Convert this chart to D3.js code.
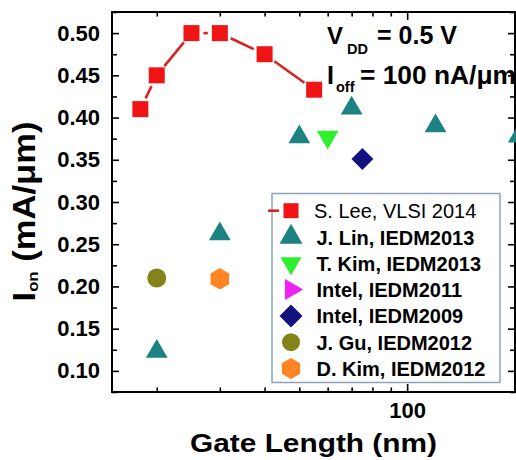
<!DOCTYPE html>
<html><head><meta charset="utf-8">
<script src="https://cdn.jsdelivr.net/npm/d3@7"></script>
<style>
body{margin:0;background:#fff}
svg{display:block}
text{font-family:"Liberation Sans",Arial,Helvetica,sans-serif}
</style>
</head><body>
<svg id="c" width="516" height="460"></svg>
<script>
// ---- data ----
const seriesNames = ["S. Lee, VLSI 2014","J. Lin, IEDM2013","T. Kim, IEDM2013","Intel, IEDM2011","Intel, IEDM2009","J. Gu, IEDM2012","D. Kim, IEDM2012"];
const leeX = [18, 20, 25, 30, 40, 55];
const leeY = [0.410, 0.450, 0.500, 0.500, 0.475, 0.433];
const linX = [20, 30, 50, 70, 120, 205];
const linY = [0.123, 0.262, 0.377, 0.411, 0.390, 0.378];
const tkimX = [60];
const tkimY = [0.377];
const intel11X = [];
const intel11Y = [];
const intel09X = [75];
const intel09Y = [0.351];
const guX = [20];
const guY = [0.210];
const dkimX = [30];
const dkimY = [0.209];
const yMajorTicks = [0.10, 0.15, 0.20, 0.25, 0.30, 0.35, 0.40, 0.45, 0.50];
const yMinorTicks = [0.075, 0.125, 0.175, 0.225, 0.275, 0.325, 0.375, 0.425, 0.475, 0.525];
const xMinorTicks = [20, 30, 40, 50, 60, 70, 80, 90];
const xMajorTicks = [100, 200];
const xTickLabels = {100: "100"};

// ---- layout ----
const L = 112, R = 515, T = 12, B = 392;
const svg = d3.select("#c");
const x = d3.scaleLog().domain([15, 200]).range([L, R]);
const y = d3.scaleLinear().domain([0.075, 0.525]).range([B, T]);

const hexagon = {
  draw(ctx, size) {
    const r = Math.sqrt(2 * size / (3 * Math.sqrt(3)));
    for (let i = 0; i < 6; i++) {
      const a = (-90 + 60 * i) * Math.PI / 180;
      if (i === 0) ctx.moveTo(r * Math.cos(a), r * Math.sin(a));
      else ctx.lineTo(r * Math.cos(a), r * Math.sin(a));
    }
    ctx.closePath();
  }
};

const styles = [
  {xs: leeX, ys: leeY, type: d3.symbolSquare, rot: 0, size: 256, lsize: 225, color: "#f01414"},
  {xs: linX, ys: linY, type: d3.symbolTriangle, rot: 0, size: 205, lsize: 229, color: "#1c8282"},
  {xs: tkimX, ys: tkimY, type: d3.symbolTriangle, rot: 180, size: 205, lsize: 191, color: "#2ef02e"},
  {xs: intel11X, ys: intel11Y, type: d3.symbolTriangle, rot: 90, size: 205, lsize: 191, color: "#f020f0"},
  {xs: intel09X, ys: intel09Y, type: d3.symbolSquare, rot: 45, size: 240, lsize: 265, color: "#111180"},
  {xs: guX, ys: guY, type: d3.symbolCircle, rot: 0, size: 284, lsize: 254, color: "#83831a"},
  {xs: dkimX, ys: dkimY, type: hexagon, rot: 0, size: 300, lsize: 286, color: "#ff8422"}
];

// ---- axes ----
function styleAxis(g) {
  g.select(".domain").remove();
  g.selectAll(".tick line").attr("stroke", "#000").attr("stroke-width", 1.6);
  g.selectAll("text").attr("font-size", 22).attr("font-weight", "bold").attr("fill", "#000")
    .attr("font-family", "'Liberation Sans',Arial,sans-serif");
}
const fmt = d3.format(".2f");
svg.append("g").attr("transform", `translate(${L},0)`)
  .call(d3.axisLeft(y).tickValues(yMajorTicks).tickSize(-7).tickSizeOuter(0).tickPadding(12).tickFormat(fmt)).call(styleAxis);
svg.append("g").attr("transform", `translate(${L},0)`)
  .call(d3.axisLeft(y).tickValues(yMinorTicks).tickSize(-5).tickSizeOuter(0).tickFormat("")).call(styleAxis);
svg.append("g").attr("transform", `translate(${R},0)`)
  .call(d3.axisRight(y).tickValues(yMajorTicks).tickSize(-7).tickSizeOuter(0).tickFormat("")).call(styleAxis);
svg.append("g").attr("transform", `translate(${R},0)`)
  .call(d3.axisRight(y).tickValues(yMinorTicks).tickSize(-5).tickSizeOuter(0).tickFormat("")).call(styleAxis);
svg.append("g").attr("transform", `translate(0,${B})`)
  .call(d3.axisBottom(x).tickValues(xMajorTicks).tickSize(-8).tickSizeOuter(0).tickPadding(10).tickFormat(d => xTickLabels[d] || "")).call(styleAxis);
svg.append("g").attr("transform", `translate(0,${B})`)
  .call(d3.axisBottom(x).tickValues(xMinorTicks).tickSize(-4.5).tickSizeOuter(0).tickFormat("")).call(styleAxis);
svg.append("g").attr("transform", `translate(0,${T})`)
  .call(d3.axisTop(x).tickValues(xMajorTicks).tickSize(-8).tickSizeOuter(0).tickFormat("")).call(styleAxis);
svg.append("g").attr("transform", `translate(0,${T})`)
  .call(d3.axisTop(x).tickValues(xMinorTicks).tickSize(-4.5).tickSizeOuter(0).tickFormat("")).call(styleAxis);

svg.append("rect").attr("x", L).attr("y", T).attr("width", R - L).attr("height", B - T)
  .attr("fill", "none").attr("stroke", "#000").attr("stroke-width", 2);

// ---- S. Lee line with gaps around symbols ----
const leePts = d3.zip(leeX, leeY).map(d => [x(d[0]), y(d[1])]);
const gap = 12;
svg.append("g").selectAll("line").data(d3.pairs(leePts)).join("line")
  .each(function([a, b]) {
    const dx = b[0] - a[0], dy = b[1] - a[1], len = Math.hypot(dx, dy);
    const ux = dx / len, uy = dy / len;
    d3.select(this).attr("x1", a[0] + ux * gap).attr("y1", a[1] + uy * gap)
      .attr("x2", b[0] - ux * gap).attr("y2", b[1] - uy * gap);
  })
  .attr("stroke", "#d42424").attr("stroke-width", 2.6);

// ---- markers ----
styles.forEach(s => {
  const sym = d3.symbol().type(s.type).size(s.size);
  svg.append("g").selectAll("path").data(d3.zip(s.xs, s.ys)).join("path")
    .attr("d", sym)
    .attr("transform", d => `translate(${x(d[0])},${y(d[1])}) rotate(${s.rot})`)
    .attr("fill", s.color);
});

// ---- annotation ----
const ann = svg.append("g").attr("font-weight", "bold").attr("fill", "#000");
ann.append("text").attr("x", 327).attr("y", 43.5).attr("font-size", 24).text("V");
ann.append("text").attr("x", 347).attr("y", 53.5).attr("font-size", 14.5).text("DD");
ann.append("text").attr("x", 377).attr("y", 43.5).attr("font-size", 25).attr("textLength", 80).attr("lengthAdjust", "spacingAndGlyphs").text("= 0.5 V");
ann.append("text").attr("x", 327).attr("y", 83.5).attr("font-size", 25).text("I");
ann.append("text").attr("x", 336).attr("y", 92).attr("font-size", 14.5).text("off");
ann.append("text").attr("x", 360).attr("y", 83.5).attr("font-size", 25).attr("textLength", 156).attr("lengthAdjust", "spacingAndGlyphs").text("= 100 nA/μm");

// ---- axis titles ----
svg.append("text").attr("x", (L + R) / 2).attr("y", 452).attr("text-anchor", "middle")
  .attr("font-size", 25).attr("font-weight", "bold").attr("textLength", 247).attr("lengthAdjust", "spacingAndGlyphs")
  .text("Gate Length (nm)");
const yt = svg.append("text").attr("transform", "translate(35,211.5) rotate(-90)").attr("text-anchor", "middle")
  .attr("font-weight", "bold").attr("fill", "#000").attr("textLength", 180).attr("lengthAdjust", "spacingAndGlyphs");
yt.append("tspan").attr("font-size", 31).text("I");
yt.append("tspan").attr("font-size", 15).attr("dy", 3).text("on");
yt.append("tspan").attr("font-size", 31).attr("dy", -3).text(" (mA/μm)");

// ---- legend ----
const lg = svg.append("g");
lg.append("rect").attr("x", 272).attr("y", 193.5).attr("width", 228).attr("height", 189)
  .attr("fill", "#fff").attr("stroke", "#8ea2b8").attr("stroke-width", 1.5);
const ly = d3.scalePoint().domain(seriesNames).range([210.7, 368.5]);
const symX = 291;
lg.append("line").attr("x1", 268).attr("x2", 279).attr("y1", ly(seriesNames[0])).attr("y2", ly(seriesNames[0]))
  .attr("stroke", "#d42424").attr("stroke-width", 2.6);
seriesNames.forEach((name, i) => {
  const s = styles[i];
  lg.append("path").attr("d", d3.symbol().type(s.type).size(s.lsize))
    .attr("transform", `translate(${symX},${ly(name)}) rotate(${s.rot})`).attr("fill", s.color);
  lg.append("text").attr("x", i === 0 ? 314 : 316.5).attr("y", ly(name) + 7.5)
    .attr("font-size", 20).attr("font-weight", i === 0 ? "normal" : "bold").attr("fill", "#000").text(name);
});
</script>
</body></html>
